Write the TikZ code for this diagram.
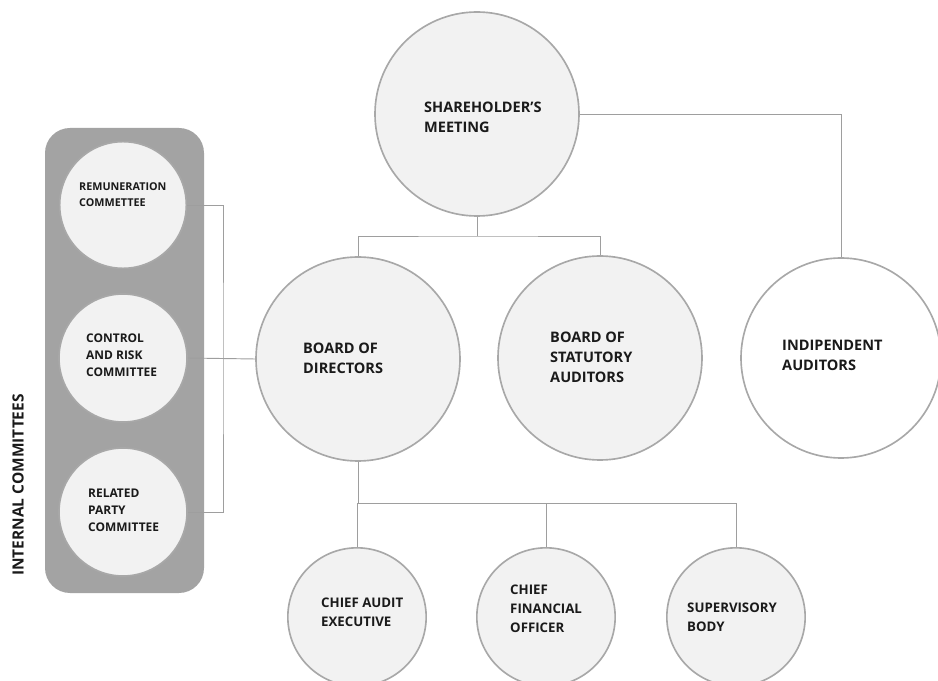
\documentclass[tikz,border=0pt]{standalone}
\usepackage{fontspec}
\setmainfont{Open Sans}
\definecolor{ringgray}{HTML}{A8A8A8}
\definecolor{unitfill}{HTML}{F2F2F2}
\definecolor{panelgray}{HTML}{A3A3A3}
\definecolor{linkgray}{HTML}{9E9E9E}
\definecolor{inkgray}{HTML}{1A1A1A}
\tikzset{
  unit/.style={circle,draw=ringgray,line width=1.4pt,fill=unitfill,minimum size=#1},
  lbl/.style={anchor=west,align=left,inner sep=0pt,text=inkgray,font=\bfseries\fontsize{12.4}{17}\selectfont},
  lowlbl/.style={lbl,font=\bfseries\fontsize{11.3}{16}\selectfont},
  smalllbl/.style={lbl,font=\bfseries\fontsize{10.2}{14.5}\selectfont},
  link/.style={draw=linkgray,line width=0.8pt}
}
\begin{document}
\begin{tikzpicture}[x=0.03cm,y=-0.03cm]
      \useasboundingbox (0,0) rectangle (938,681);
      % internal committees panel
      \fill[panelgray,rounded corners=0.75cm] (45,128) rectangle (204,593);
      \node[rotate=90,text=inkgray,font=\bfseries\fontsize{13.2}{15}\selectfont] (panel) at (18,485) {INTERNAL COMMITTEES};
      \node[unit=3.8cm] (rem) at (123,205) {};
      \node[unit=3.84cm] (crc) at (123,358) {};
      \node[unit=3.84cm] (rpc) at (123,512) {};
      % main bodies
      \node[unit=6.12cm] (sm) at (477,114) {};
      \node[unit=6.12cm] (bod) at (358,359) {};
      \node[unit=6.12cm] (bsa) at (600,358) {};
      \node[unit=6.0cm,fill=white] (ia) at (841,358) {};
      \node[unit=4.15cm] (cae) at (357,617) {};
      \node[unit=4.15cm] (cfo) at (546,617) {};
      \node[unit=4.15cm] (sb) at (736,617) {};
      % links
      \coordinate (split) at (477,236);
      \coordinate (fork) at (358,503);
      \coordinate (bar) at (223,358);
      \draw[link] (sm.east) -| (ia.north);
      \draw[link] (sm.south) -- (split);
      \draw[link] (bod.north) |- (split) -| (bsa.north);
      \draw[link] (bod.south) -- (fork);
      \draw[link] (fork) -| (cae.north);
      \draw[link] (fork) -| (cfo.north);
      \draw[link] (fork) -| (sb.north);
      \draw[link] (rem.east) -| (bar) |- (rpc.east);
      \draw[link] (crc.east) -- (bod.west);
      % texts
      \node[lbl] (smtext) at (424,117) {SHAREHOLDER'S\\MEETING};
      \node[lbl] (bodtext) at (303,358) {BOARD OF\\DIRECTORS};
      \node[lbl] (bsatext) at (550,357) {BOARD OF\\STATUTORY\\AUDITORS};
      \node[lbl] (iatext) at (782,355) {INDIPENDENT\\AUDITORS};
      \node[lowlbl] (caetext) at (321,612) {CHIEF AUDIT\\EXECUTIVE};
      \node[lowlbl] (cfotext) at (510,609) {CHIEF\\FINANCIAL\\OFFICER};
      \node[lowlbl] (sbtext) at (687,617) {SUPERVISORY\\BODY};
      \node[smalllbl,font=\bfseries\fontsize{9.2}{13.5}\selectfont] (remtext) at (79,195) {REMUNERATION\\COMMETTEE};
      \node[smalllbl] (crctext) at (86,355) {CONTROL\\AND RISK\\COMMITTEE};
      \node[smalllbl] (rpctext) at (88,510) {RELATED\\PARTY\\COMMITTEE};
\end{tikzpicture}
\end{document}
